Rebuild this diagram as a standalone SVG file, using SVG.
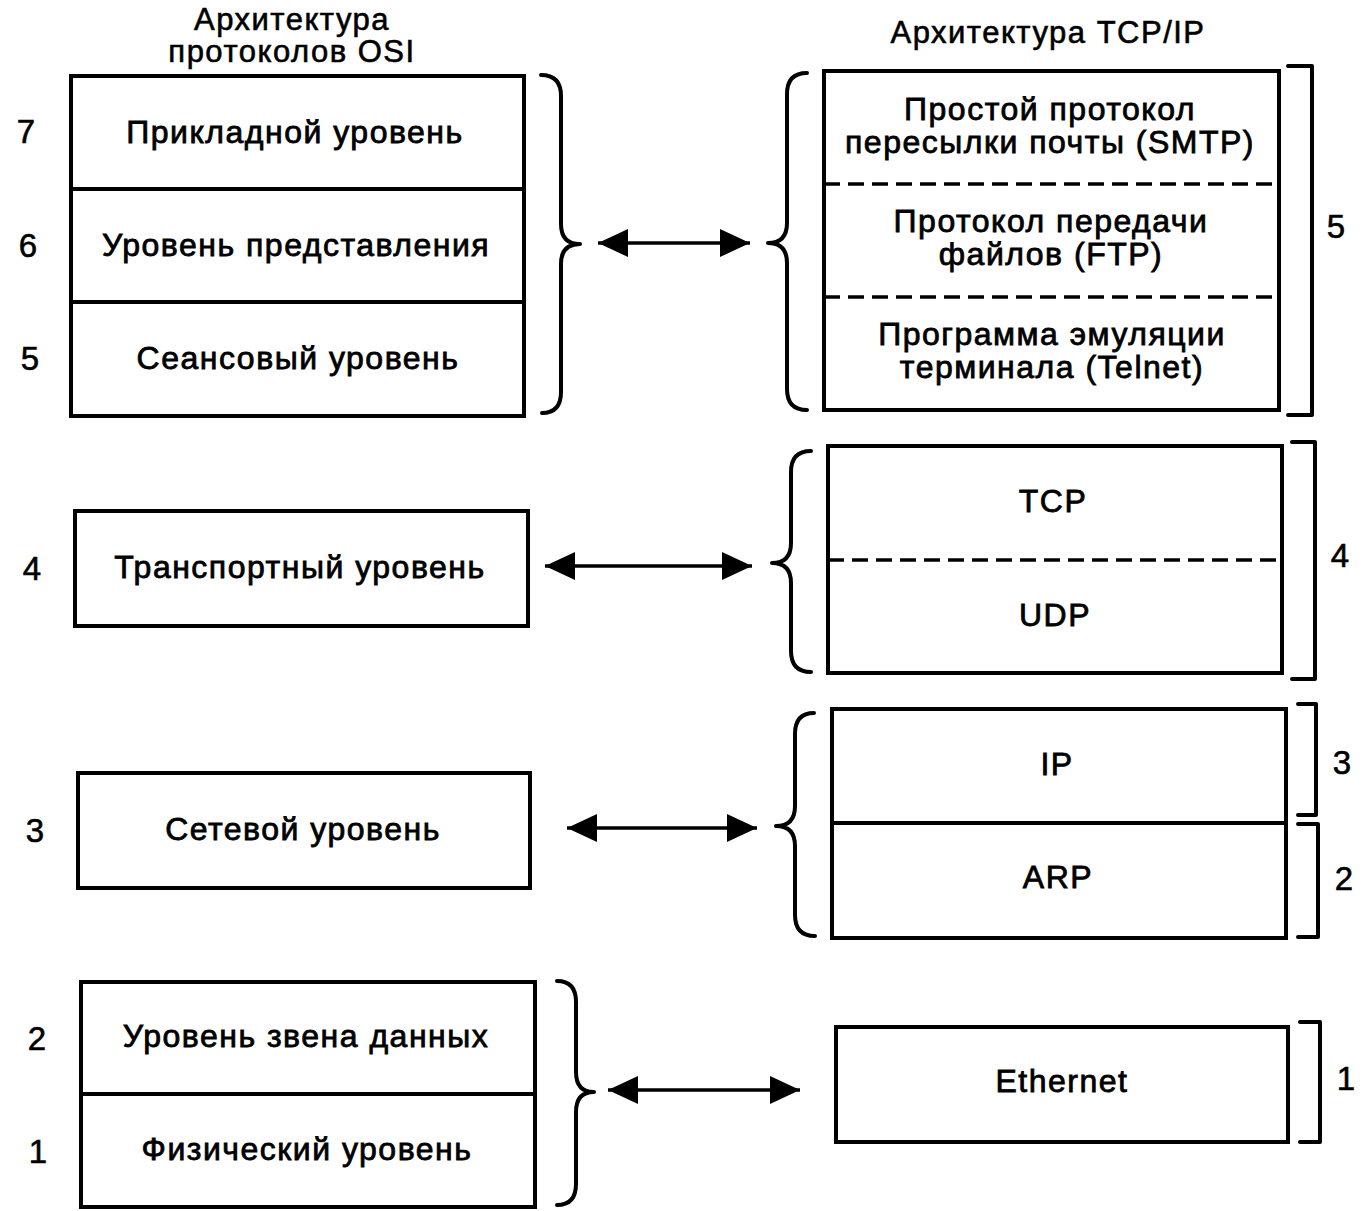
<svg xmlns="http://www.w3.org/2000/svg" width="1369" height="1211" viewBox="0 0 1369 1211">
<defs>
<style>
.box{fill:#fff;stroke:#000;stroke-width:4}
.div{stroke:#000;stroke-width:4}
.dash{stroke:#000;stroke-width:3.5;stroke-dasharray:16 8}
.br{fill:none;stroke:#000;stroke-width:4;stroke-linecap:round;stroke-linejoin:round}
.t{font-family:"Liberation Sans",Arial,sans-serif;font-size:32px;letter-spacing:1.5px;fill:#000;stroke:#000;stroke-width:0.8;text-anchor:middle}
.h{font-family:"Liberation Sans",Arial,sans-serif;font-size:31px;letter-spacing:1.5px;fill:#000;stroke:#000;stroke-width:0.6;text-anchor:middle}
.n{font-family:"Liberation Sans",Arial,sans-serif;font-size:33px;fill:#000;stroke:#000;stroke-width:0.6;text-anchor:middle}
.arr{stroke:#000;stroke-width:3.5;marker-start:url(#ah);marker-end:url(#ah)}
</style>
<marker id="ah" viewBox="0 0 30 28" refX="30" refY="14" markerWidth="30" markerHeight="28" markerUnits="userSpaceOnUse" orient="auto-start-reverse">
<path d="M0,0 L30,14 L0,28 z" fill="#000"/>
</marker>
</defs>
<rect width="1369" height="1211" fill="#fff"/>

<text class="h" x="292" y="30">Архитектура</text>
<text class="h" x="292" y="62">протоколов OSI</text>
<text class="h" x="1048" y="43">Архитектура TCP/IP</text>

<g id="osi-765">
<rect class="box" x="71" y="76" width="453" height="340"/>
<line class="div" x1="71" y1="189" x2="524" y2="189"/>
<line class="div" x1="71" y1="302" x2="524" y2="302"/>
<text class="t" x="295" y="143">Прикладной уровень</text>
<text class="t" x="296" y="256">Уровень представления</text>
<text class="t" x="298" y="369">Сеансовый уровень</text>
<text class="n" x="26" y="143">7</text>
<text class="n" x="28" y="257">6</text>
<text class="n" x="30" y="370">5</text>
</g>

<g id="osi-4">
<rect class="box" x="75" y="511" width="453" height="115"/>
<text class="t" x="300" y="578">Транспортный уровень</text>
<text class="n" x="32" y="580">4</text>
</g>

<g id="osi-3">
<rect class="box" x="78" y="773" width="452" height="115"/>
<text class="t" x="303" y="840">Сетевой уровень</text>
<text class="n" x="35" y="842">3</text>
</g>

<g id="osi-21">
<rect class="box" x="81" y="982" width="454" height="225"/>
<line class="div" x1="81" y1="1094" x2="535" y2="1094"/>
<text class="t" x="306" y="1047">Уровень звена данных</text>
<text class="t" x="307" y="1160">Физический уровень</text>
<text class="n" x="37" y="1050">2</text>
<text class="n" x="38" y="1163">1</text>
</g>

<g id="tcp-app">
<rect class="box" x="824" y="71" width="455" height="339"/>
<line class="dash" x1="824" y1="184" x2="1279" y2="184"/>
<line class="dash" x1="824" y1="297" x2="1279" y2="297"/>
<text class="t" x="1050" y="120">Простой протокол</text>
<text class="t" x="1050" y="153">пересылки почты (SMTP)</text>
<text class="t" x="1051" y="232">Протокол передачи</text>
<text class="t" x="1051" y="265">файлов (FTP)</text>
<text class="t" x="1052" y="345">Программа эмуляции</text>
<text class="t" x="1052" y="378">терминала (Telnet)</text>
<path class="br" d="M807,73 Q787,73 787,94 L787,223 Q787,243 768,243 Q787,243 787,263 L787,389 Q787,410 807,410"/>
<path class="br" d="M1288,66 L1312,66 L1312,415 L1288,415"/>
<text class="n" x="1336" y="238">5</text>
</g>

<g id="tcp-transport">
<rect class="box" x="828" y="446" width="454" height="227"/>
<line class="dash" x1="828" y1="560" x2="1282" y2="560"/>
<text class="t" x="1053" y="512">TCP</text>
<text class="t" x="1055" y="626">UDP</text>
<path class="br" d="M811,451 Q791,451 791,472 L791,543 Q791,563 772,563 Q791,563 791,583 L791,651 Q791,672 811,672"/>
<path class="br" d="M1292,442 L1315,442 L1315,679 L1292,679"/>
<text class="n" x="1340" y="567">4</text>
</g>

<g id="tcp-net">
<rect class="box" x="832" y="709" width="454" height="229"/>
<line class="div" x1="832" y1="823" x2="1286" y2="823"/>
<text class="t" x="1057" y="775">IP</text>
<text class="t" x="1058" y="888">ARP</text>
<path class="br" d="M814,713 Q795,713 795,734 L795,806 Q795,826 776,826 Q795,826 795,846 L795,915 Q795,936 815,936"/>
<path class="br" d="M1298,704 L1316,704 L1316,815 L1298,815"/>
<path class="br" d="M1298,824 L1318,824 L1318,937 L1298,937"/>
<text class="n" x="1342" y="774">3</text>
<text class="n" x="1344" y="890">2</text>
</g>

<g id="tcp-ethernet">
<rect class="box" x="836" y="1027" width="452" height="115"/>
<text class="t" x="1062" y="1092">Ethernet</text>
<path class="br" d="M1300,1022 L1320,1022 L1320,1142 L1300,1142"/>
<text class="n" x="1346" y="1090">1</text>
</g>

<g id="osi-braces">
<path class="br" d="M541,75 Q561,75 561,96 L561,224 Q561,244 580,244 Q561,244 561,264 L561,392 Q561,413 542,413"/>
<path class="br" d="M557,981 Q576,981 576,1002 L576,1072 Q576,1092 594,1092 Q576,1092 576,1112 L576,1184 Q576,1205 557,1205"/>
</g>

<g id="connectors">
<line class="arr" x1="598" y1="243" x2="750" y2="243"/>
<line class="arr" x1="545" y1="566" x2="752" y2="566"/>
<line class="arr" x1="567" y1="828" x2="757" y2="828"/>
<line class="arr" x1="608" y1="1090" x2="800" y2="1090"/>
</g>
</svg>
